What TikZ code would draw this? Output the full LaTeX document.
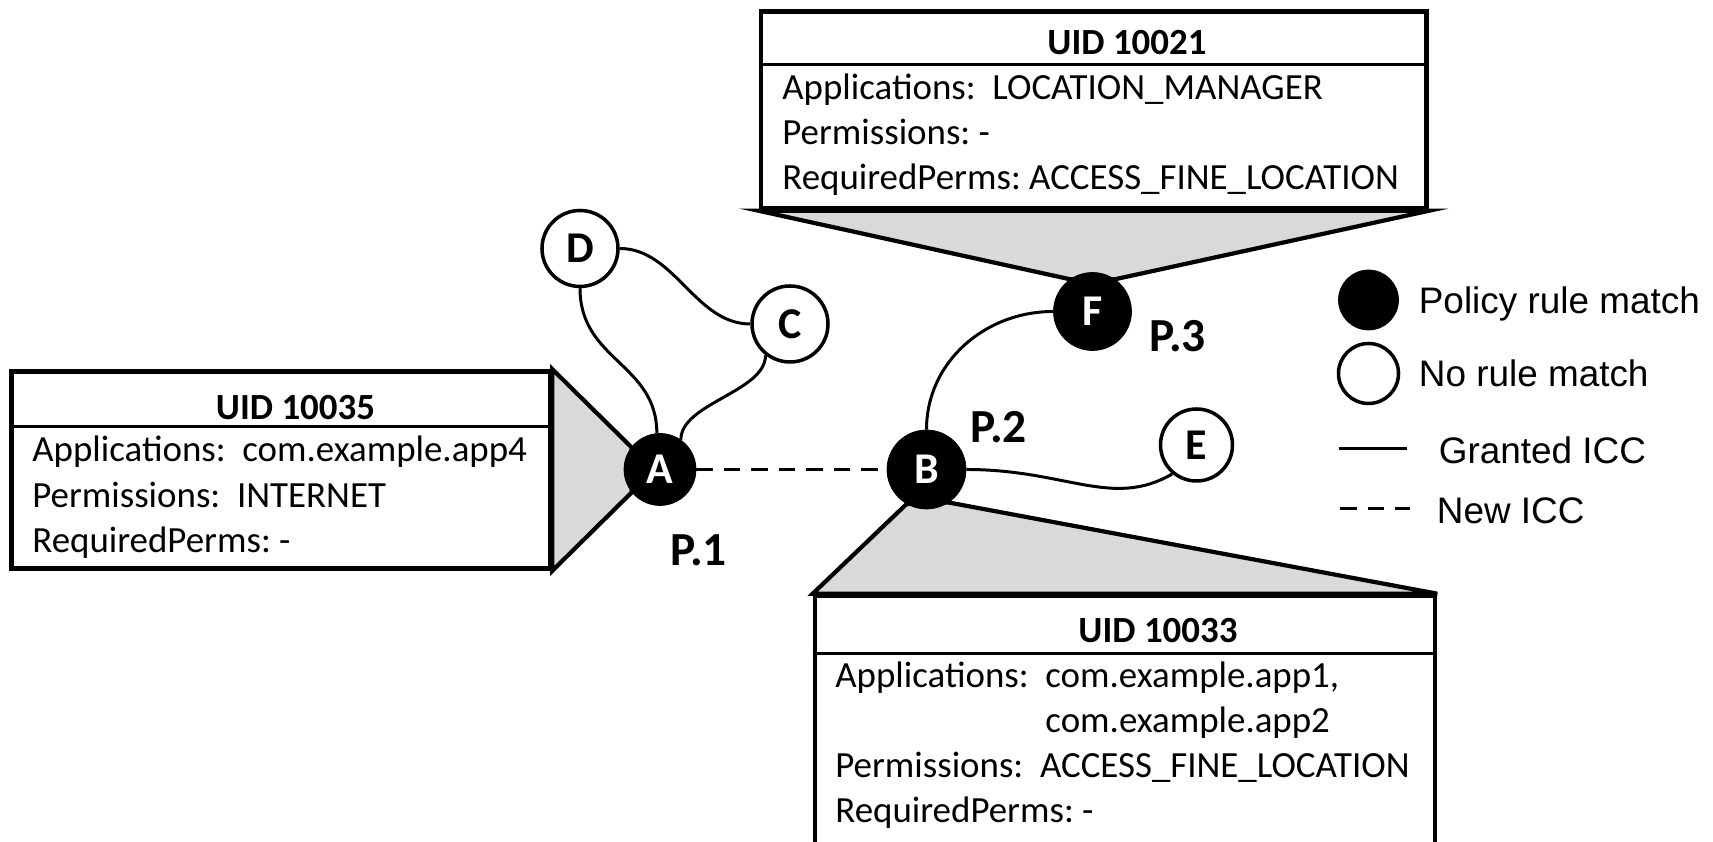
\documentclass[tikz,border=0pt]{standalone}
\usepackage{fontspec}
\setmainfont{Carlito}
\newfontfamily\legendfont{Liberation Sans}
\usepackage{tikz}
\usetikzlibrary{positioning, backgrounds}
\definecolor{boxgray}{HTML}{D9D9D9}
\frenchspacing

\tikzset{
  infobox/.style={draw=black, fill=white, line width=2.6pt, inner sep=0pt},
  headrule/.style={line width=1.8pt},
  boxtext/.style={anchor=base west, inner sep=0pt, font=\fontsize{21}{25}\selectfont},
  boxhead/.style={anchor=base, inner sep=0pt, font=\bfseries\fontsize{21}{25}\selectfont},
  funnel/.style={fill=boxgray, draw=black, line width=2.4pt},
  matchnode/.style={circle, fill=black, draw=black, minimum size=1.56cm, inner sep=0pt,
    text=white, font=\bfseries\fontsize{25}{25}\selectfont},
  freenode/.style={circle, fill=white, draw=black, line width=2pt, minimum size=1.52cm,
    inner sep=0pt, font=\bfseries\fontsize{25}{25}\selectfont},
  plabel/.style={inner sep=0pt, font=\bfseries\fontsize{27}{27}\selectfont},
  icc/.style={line width=1.7pt},
  newicc/.style={icc, dash pattern=on 0.33cm off 0.22cm},
  legendtext/.style={anchor=base west, inner sep=0pt, font=\legendfont\fontsize{21}{25}\selectfont},
}

\begin{document}
\begin{tikzpicture}
  \useasboundingbox (0,0) rectangle (34.26,16.84);
  \clip (0,0) rectangle (34.26,16.84);

  % Apps
  \node[matchnode, minimum size=1.44cm] (A) at (13.2,7.45) {A};
  \node[matchnode, minimum size=1.58cm] (B) at (18.53,7.45) {B};
  \node[freenode] (C) at (15.8,10.36) {C};
  \node[freenode] (D) at (11.6,11.87) {D};
  \node[freenode, minimum size=1.44cm] (E) at (23.93,7.94) {E};
  \node[matchnode] (F) at (21.85,10.61) {F};

  % Policy labels
  \node[plabel] (p1) at (13.97,5.84) {P.1};
  \node[plabel] (p2) at (19.97,8.29) {P.2};
  \node[plabel] (p3) at (23.55,10.11) {P.3};

  % ICC links
  \draw[icc] (D.south) .. controls +(0,-1.45) and +(0,1.4) .. (A.95);
  \draw[icc] (C.-128) .. controls +(0,-0.73) and +(0,0.73) .. (A.55);
  \draw[icc] (D.east) .. controls +(1.1,0) and +(-1.1,0) .. (C.west);
  \draw[icc] (B.north) to[out=90, in=180] (F.west);
  \draw[icc] (B.east) .. controls +(2.0,0) and +(-1.2,-0.7) .. (E.-130);
  \draw[newicc] (A) -- (B);

  % UID 10021
  \node[infobox, minimum width=13.31cm, minimum height=3.94cm] (uidF) at (21.875,14.64) {};
  \draw[headrule] (uidF.north west) ++(0,-1.1) -- +(13.31,0);
  \node[boxhead] at (22.54,15.74) {UID 10021};
  \node[boxtext] at (15.64,14.84) {Applications:\ \ LOCATION\_MANAGER};
  \node[boxtext] at (15.64,13.94) {Permissions: -};
  \node[boxtext] at (15.64,13.04) {RequiredPerms: ACCESS\_FINE\_LOCATION};

  % UID 10035
  \node[infobox, minimum width=10.77cm, minimum height=3.94cm] (uidA) at (5.615,7.44) {};
  \draw[headrule] (uidA.north west) ++(0,-1.14) -- +(10.77,0);
  \node[boxhead] at (5.91,8.45) {UID 10035};
  \node[boxtext] at (0.64,7.60) {Applications:\ \ com.example.app4};
  \node[boxtext] at (0.64,6.69) {Permissions:\ \ INTERNET};
  \node[boxtext] at (0.64,5.78) {RequiredPerms: -};

  % UID 10033
  \node[infobox, minimum width=12.4cm, minimum height=5.42cm] (uidB) at (22.5,2.21) {};
  \draw[headrule] (uidB.north west) ++(0,-1.2) -- +(12.4,0);
  \node[boxhead] at (23.16,3.99) {UID 10033};
  \node[boxtext] at (16.7,3.08) {Applications:\ \ com.example.app1,};
  \node[boxtext] at (16.7,2.18) {\phantom{Applications:\ \ }com.example.app2};
  \node[boxtext] at (16.7,1.28) {Permissions:\ \ ACCESS\_FINE\_LOCATION};
  \node[boxtext] at (16.7,0.38) {RequiredPerms: -};

  % Funnels
  \begin{scope}[on background layer]
    \filldraw[funnel] (uidF.south west) -- (F.125) -- (F.55) -- (uidF.south east) -- cycle;
    \filldraw[funnel] (uidA.north east) -- (A.142) -- (A.219) -- (uidA.south east) -- cycle;
    \filldraw[funnel] (uidB.north west) -- (B.240) -- (B.304) -- (uidB.north east) -- cycle;
  \end{scope}

  % Legend
  \node[matchnode, minimum size=1.2cm] (keyMatch) at (27.37,10.84) {};
  \node[freenode, minimum size=1.2cm] (keyFree) at (27.37,9.37) {};
  \node[legendtext] (keyMatchText) at (28.37,10.57) {Policy rule match};
  \node[legendtext] (keyFreeText) at (28.37,9.11) {No rule match};
  \draw[icc] (26.77,7.87) -- (28.13,7.87);
  \node[legendtext] (keyGranted) at (28.77,7.57) {Granted ICC};
  \draw[newicc] (26.8,6.67) -- (28.2,6.67);
  \node[legendtext] (keyNew) at (28.73,6.37) {New ICC};
\end{tikzpicture}
\end{document}
